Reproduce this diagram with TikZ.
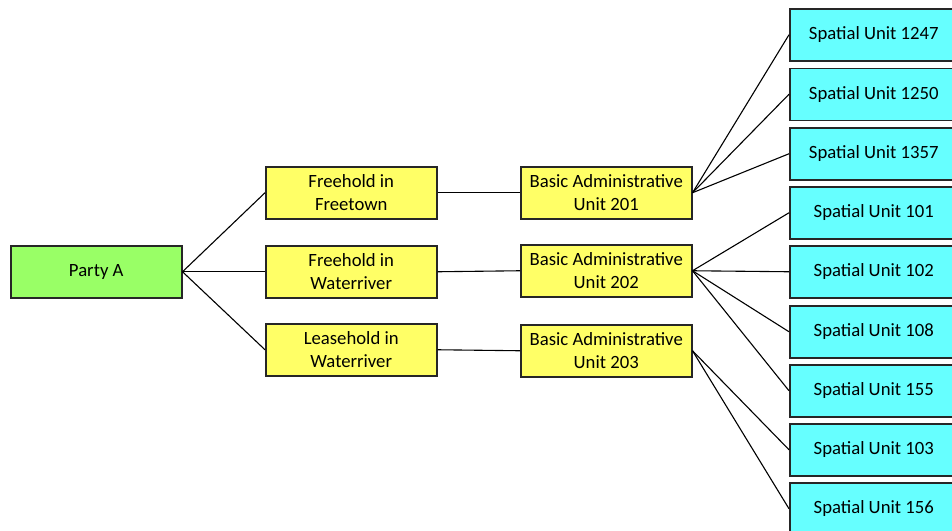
\documentclass[tikz,border=0pt]{standalone}
\usepackage{fontspec}
\setmainfont{Carlito}
\begin{document}
\begin{tikzpicture}[x=1pt,y=-1pt,
  box/.style={draw=black!85, line width=1.5pt, minimum width=171pt, minimum height=52pt,
    inner sep=2pt, align=center, font=\fontsize{18.7}{23}\selectfont, anchor=north west},
  party/.style={box, fill={rgb,255:red,153;green,255;blue,102}},
  right/.style={box, fill={rgb,255:red,255;green,255;blue,102}},
  bau/.style={box, fill={rgb,255:red,255;green,255;blue,102}},
  su/.style={box, fill={rgb,255:red,102;green,255;blue,255}, minimum width=168pt},
  link/.style={draw=black, line width=1.1pt}]
\useasboundingbox (0,0) rectangle (952,530);
\node[party] (pa) at (10,245) {Party A};
\node[right] (r1) at (265,166) {Freehold in\\Freetown};
\node[right] (r2) at (265,245) {Freehold in\\Waterriver};
\node[right] (r3) at (265,323) {Leasehold in\\Waterriver};
\node[bau] (b1) at (520,166) {Basic Administrative\\Unit 201};
\node[bau] (b2) at (520,244) {Basic Administrative\\Unit 202};
\node[bau] (b3) at (520,324) {Basic Administrative\\Unit 203};
\node[su] (s1) at (789,8) {Spatial Unit 1247};
\node[su] (s2) at (789,67.5) {Spatial Unit 1250};
\node[su] (s3) at (789,127) {Spatial Unit 1357};
\node[su] (s4) at (789,186) {Spatial Unit 101};
\node[su] (s5) at (789,245) {Spatial Unit 102};
\node[su] (s6) at (789,305) {Spatial Unit 108};
\node[su] (s7) at (789,364) {Spatial Unit 155};
\node[su] (s8) at (789,423) {Spatial Unit 103};
\node[su] (s9) at (789,482) {Spatial Unit 156};
\foreach \r in {r1,r2,r3} \draw[link] (pa.east) -- (\r.west);
\draw[link] (r1.east) -- (b1.west);
\draw[link] (r2.east) -- (b2.west);
\draw[link] (r3.east) -- (b3.west);
\foreach \s in {s1,s2,s3} \draw[link] (b1.east) -- (\s.west);
\foreach \s in {s4,s5,s6,s7} \draw[link] (b2.east) -- (\s.west);
\foreach \s in {s8,s9} \draw[link] (b3.east) -- (\s.west);
\end{tikzpicture}
\end{document}
